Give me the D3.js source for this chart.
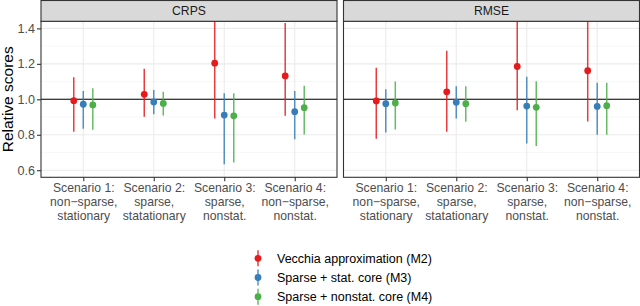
<!DOCTYPE html>
<html>
<head>
<meta charset="utf-8">
<script src="https://cdn.jsdelivr.net/npm/d3@7"></script>
<style>
  body { margin: 0; background: #fff; }
  text { font-family: "Liberation Sans", Arial, sans-serif; }
</style>
</head>
<body>
<svg id="chart" width="640" height="306"></svg>
<script>
// panels, categories, methods
var metrics = ["CRPS", "RMSE"];
var scenarios = ["S1", "S2", "S3", "S4"];
var scenarioLabels = [
  ["Scenario 1:", "non\u2212sparse,", "stationary"],
  ["Scenario 2:", "sparse,", "statationary"],
  ["Scenario 3:", "sparse,", "nonstat."],
  ["Scenario 4:", "non\u2212sparse,", "nonstat."]
];
var methods = ["Vecchia approximation (M2)", "Sparse + stat. core (M3)", "Sparse + nonstat. core (M4)"];
var colors = ["#E41A1C", "#377EB8", "#4DAF4A"];
var yTicks = [0.6, 0.8, 1.0, 1.2, 1.4];
var yMinor = [0.7, 0.9, 1.1, 1.3];

// estimates / lower / upper per metric, per method, per scenario
var crpsMid = [[0.992, 1.028, 1.204, 1.132], [0.972, 0.985, 0.911, 0.930], [0.968, 0.977, 0.907, 0.953]];
var crpsLow = [[0.817, 0.902, 0.892, 0.907], [0.834, 0.915, 0.634, 0.775], [0.828, 0.909, 0.643, 0.802]];
var crpsHigh = [[1.125, 1.172, 1.55, 1.43], [1.047, 1.053, 1.034, 1.047], [1.062, 1.042, 1.034, 1.077]];
var rmseMid = [[0.991, 1.042, 1.185, 1.161], [0.975, 0.983, 0.962, 0.960], [0.979, 0.975, 0.955, 0.964]];
var rmseLow = [[0.777, 0.817, 0.938, 0.875], [0.813, 0.892, 0.751, 0.800], [0.830, 0.873, 0.737, 0.800]];
var rmseHigh = [[1.178, 1.274, 1.60, 1.50], [1.057, 1.074, 1.127, 1.093], [1.100, 1.074, 1.102, 1.093]];

var series = {
  CRPS: {mid: crpsMid, low: crpsLow, high: crpsHigh},
  RMSE: {mid: rmseMid, low: rmseLow, high: rmseHigh}
};

var svg = d3.select("#chart");
var plotTop = 21.3, plotBottom = 177.3, stripH = 20.8;
var panelX = [[41, 337], [343.5, 639.5]];

var y = d3.scaleLinear().domain([0.56, 1.44]).range([plotBottom, plotTop]);

var defs = svg.append("defs");

metrics.forEach(function(m, pi) {
  var x0 = panelX[pi][0], x1 = panelX[pi][1];
  // discrete axis with 0.6 expansion on both sides
  var x = d3.scalePoint().domain(scenarios).range([x0, x1]).padding(0.6);
  var step = x.step();
  var dodge = d3.scalePoint().domain(d3.range(methods.length)).range([-0.135 * step, 0.135 * step]);

  defs.append("clipPath").attr("id", "clip" + pi)
    .append("rect").attr("x", x0).attr("y", plotTop).attr("width", x1 - x0).attr("height", plotBottom - plotTop);

  var g = svg.append("g");

  // grid
  g.selectAll(".minor").data(yMinor).enter().append("line")
    .attr("x1", x0).attr("x2", x1)
    .attr("y1", function(d) { return y(d); }).attr("y2", function(d) { return y(d); })
    .attr("stroke", "#F2F2F2").attr("stroke-width", 0.6);
  g.selectAll(".major").data(yTicks).enter().append("line")
    .attr("x1", x0).attr("x2", x1)
    .attr("y1", function(d) { return y(d); }).attr("y2", function(d) { return y(d); })
    .attr("stroke", "#EBEBEB").attr("stroke-width", 1.1);
  g.selectAll(".vmajor").data(scenarios).enter().append("line")
    .attr("x1", function(d) { return x(d); }).attr("x2", function(d) { return x(d); })
    .attr("y1", plotTop).attr("y2", plotBottom)
    .attr("stroke", "#EBEBEB").attr("stroke-width", 1.1);

  // reference line
  g.append("line").attr("x1", x0).attr("x2", x1)
    .attr("y1", y(1)).attr("y2", y(1))
    .attr("stroke", "#000").attr("stroke-width", 1.1);

  // intervals and points
  var s = series[m];
  var marks = g.append("g").attr("clip-path", "url(#clip" + pi + ")");
  methods.forEach(function(name, k) {
    var pts = scenarios.map(function(sc, j) {
      return {sc: sc, mid: s.mid[k][j], low: s.low[k][j], high: s.high[k][j]};
    });
    marks.selectAll(".bar" + k).data(pts).enter().append("line")
      .attr("x1", function(d) { return x(d.sc) + dodge(k); })
      .attr("x2", function(d) { return x(d.sc) + dodge(k); })
      .attr("y1", function(d) { return y(d.low); })
      .attr("y2", function(d) { return y(d.high); })
      .attr("stroke", colors[k]).attr("stroke-width", 1.5).attr("stroke-opacity", 0.85);
    marks.selectAll(".pt" + k).data(pts).enter().append("circle")
      .attr("cx", function(d) { return x(d.sc) + dodge(k); })
      .attr("cy", function(d) { return y(d.mid); })
      .attr("r", 3.4)
      .attr("fill", colors[k]);
  });

  // panel border
  g.append("rect").attr("x", x0).attr("y", plotTop).attr("width", x1 - x0).attr("height", plotBottom - plotTop)
    .attr("fill", "none").attr("stroke", "#333333").attr("stroke-width", 1.1);

  // strip
  g.append("rect").attr("x", x0).attr("y", plotTop - stripH).attr("width", x1 - x0).attr("height", stripH)
    .attr("fill", "#D9D9D9").attr("stroke", "#333333").attr("stroke-width", 1.1);
  g.append("text").attr("x", (x0 + x1) / 2).attr("y", plotTop - stripH / 2)
    .attr("dy", "0.36em").attr("text-anchor", "middle")
    .attr("font-size", 12.2).attr("fill", "#1A1A1A").text(m);

  // x axis
  var xa = g.append("g").attr("transform", "translate(0," + plotBottom + ")")
    .call(d3.axisBottom(x).tickSize(4).tickFormat(""));
  xa.select(".domain").remove();
  xa.selectAll(".tick line").attr("stroke", "#333333").attr("stroke-width", 1.1);
  xa.selectAll(".tick").each(function(d, i) {
    var t = d3.select(this).append("text").attr("fill", "#4D4D4D")
      .attr("font-size", 12.2).attr("text-anchor", "middle");
    scenarioLabels[i].forEach(function(line, li) {
      t.append("tspan").attr("x", 0).attr("y", 15.2 + li * 13.75).text(line);
    });
  });

  // y axis on first panel only
  if (pi === 0) {
    var ya = g.append("g").attr("transform", "translate(" + x0 + ",0)")
      .call(d3.axisLeft(y).tickValues(yTicks).tickSize(4).tickPadding(2).tickFormat(d3.format(".1f")));
    ya.select(".domain").remove();
    ya.selectAll(".tick line").attr("stroke", "#333333").attr("stroke-width", 1.1);
    ya.selectAll(".tick text").attr("fill", "#4D4D4D").attr("font-size", 12.6)
      .attr("font-family", "Liberation Sans, Arial, sans-serif");
  }
});

// y title
svg.append("text")
  .attr("transform", "translate(13," + ((plotTop + plotBottom) / 2) + ") rotate(-90)")
  .attr("text-anchor", "middle").attr("font-size", 15.5).attr("fill", "#000")
  .text("Relative scores");

// legend
var legend = svg.append("g");
methods.forEach(function(name, k) {
  var ly = 258.3 + k * 19.2;
  legend.append("line").attr("x1", 258).attr("x2", 258).attr("y1", ly - 8).attr("y2", ly + 8)
    .attr("stroke", colors[k]).attr("stroke-width", 1.5).attr("stroke-opacity", 0.85);
  legend.append("circle").attr("cx", 258).attr("cy", ly).attr("r", 3.4).attr("fill", colors[k]);
  legend.append("text").attr("x", 277).attr("y", ly).attr("dy", "0.36em")
    .attr("font-size", 12.5).attr("fill", "#000").text(name);
});
</script>
</body>
</html>
